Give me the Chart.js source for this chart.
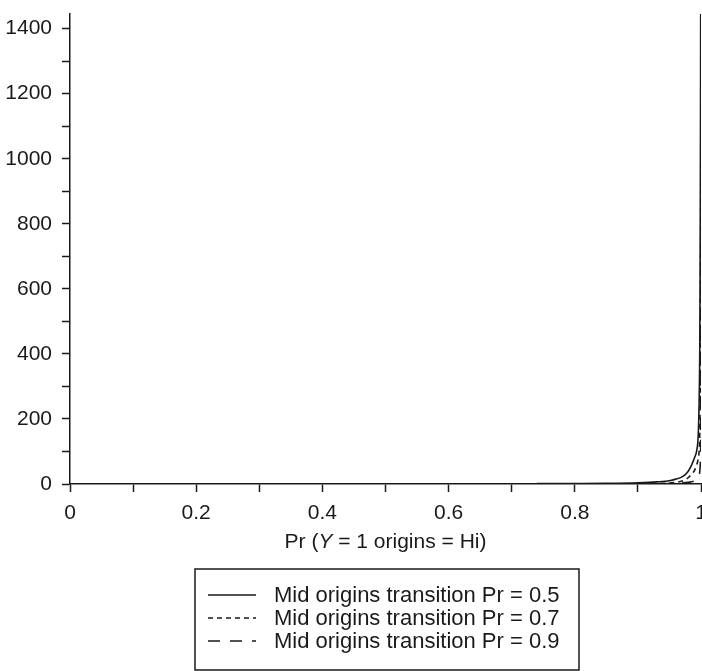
<!DOCTYPE html>
<html>
<head>
<meta charset="utf-8">
<script src="https://cdn.jsdelivr.net/npm/chart.js@4/dist/chart.umd.min.js"></script>
<style>
  html, body { margin: 0; padding: 0; background: #fff; }
  canvas { display: block; }
</style>
</head>
<body>
<canvas id="c" width="702" height="671"></canvas>
<script>
// ---- data ----
const seriesLabels = [
  'Mid origins transition Pr = 0.5',
  'Mid origins transition Pr = 0.7',
  'Mid origins transition Pr = 0.9'
];
const pr05 = [[0.74,1],[0.8,1.5],[0.85,2.2],[0.9,4],[0.93,6.5],[0.95,10],[0.96,15],[0.97,22],[0.975,29],[0.98,40],[0.985,58],[0.99,82],[0.993,100],[0.995,130],[0.996,170],[0.997,250],[0.998,400],[0.9985,600],[0.999,900],[0.9995,1450]];
const pr07 = [[0.85,0.5],[0.9,1],[0.93,1.8],[0.95,3],[0.96,5],[0.97,9],[0.975,13],[0.98,20],[0.985,30],[0.99,43],[0.993,58],[0.995,72],[0.997,100],[0.998,150],[0.9985,220],[0.999,330],[0.9993,600],[0.9996,1000],[0.9998,1450]];
const pr09 = [[0.9,0.3],[0.93,0.7],[0.95,1.2],[0.96,2],[0.97,3],[0.98,5],[0.985,7],[0.99,10],[0.993,14],[0.995,18],[0.997,26],[0.998,38],[0.999,70],[0.9995,130],[0.9997,250],[0.9998,400],[0.9999,800],[0.99995,1450]];
const xAxisTitleParts = ['Pr (', 'Y', ' = 1 origins = Hi)'];
const xMin = 0, xMax = 1, xStep = 0.1;
const yMin = 0, yMax = 1445, yStep = 100;

const INK = '#1a1a1a';
const FONT = "'Liberation Sans', Arial, Helvetica, sans-serif";
const dashes = [[], [5, 4], [12, 10]];

function toPts(arr) { return arr.map(p => ({x: p[0], y: p[1]})); }

const titleLegendPlugin = {
  id: 'titleLegend',
  afterDraw(chart) {
    const ctx = chart.ctx;
    const area = chart.chartArea;
    ctx.save();
    ctx.fillStyle = INK;
    const sz = 21;
    const fN = sz + 'px ' + FONT;
    const fI = 'italic ' + sz + 'px ' + FONT;
    ctx.font = fN; const w0 = ctx.measureText(xAxisTitleParts[0]).width;
    ctx.font = fI; const w1 = ctx.measureText(xAxisTitleParts[1]).width;
    ctx.font = fN; const w2 = ctx.measureText(xAxisTitleParts[2]).width;
    const cx = (area.left + area.right) / 2;
    let x = cx - (w0 + w1 + w2) / 2;
    const by = 548;
    ctx.textBaseline = 'alphabetic';
    ctx.textAlign = 'left';
    ctx.font = fN; ctx.fillText(xAxisTitleParts[0], x, by); x += w0;
    ctx.font = fI; ctx.fillText(xAxisTitleParts[1], x, by); x += w1;
    ctx.font = fN; ctx.fillText(xAxisTitleParts[2], x, by);

    const bx = 195, bw = 384, bt = 569, bh = 101;
    ctx.strokeStyle = INK;
    ctx.lineWidth = 1.5;
    ctx.strokeRect(bx, bt, bw, bh);
    ctx.font = '22px ' + FONT;
    chart.data.datasets.forEach((ds, i) => {
      const base = 602 + i * 23;
      ctx.beginPath();
      ctx.setLineDash(ds.borderDash || []);
      ctx.lineWidth = 1.5;
      ctx.moveTo(208, base - 7);
      ctx.lineTo(256, base - 7);
      ctx.stroke();
      ctx.setLineDash([]);
      ctx.fillText(ds.label, 274, base);
    });
    ctx.restore();
  }
};

new Chart(document.getElementById('c'), {
  type: 'scatter',
  data: {
    datasets: [pr05, pr07, pr09].map((d, i) => ({
      label: seriesLabels[i],
      data: toPts(d),
      showLine: true,
      borderColor: INK,
      backgroundColor: INK,
      borderWidth: 1.6,
      borderDash: dashes[i],
      pointRadius: 0,
      fill: false,
      cubicInterpolationMode: 'monotone'
    }))
  },
  options: {
    responsive: false,
    animation: false,
    devicePixelRatio: 1,
    layout: { padding: { top: 14, right: 1, left: 0, bottom: 147 } },
    plugins: { legend: { display: false }, tooltip: { enabled: false } },
    scales: {
      x: {
        type: 'linear', min: xMin, max: xMax,
        afterFit(s) { s.height = 40; s.paddingLeft = 0; s.paddingRight = 0; },
        border: { display: true, color: INK, width: 1.5 },
        grid: { display: true, drawOnChartArea: false, drawTicks: true, tickLength: 8, tickColor: INK, tickWidth: 1.5 },
        ticks: {
          stepSize: xStep, autoSkip: false, maxRotation: 0, padding: 9,
          color: INK, font: { size: 21, family: FONT },
          callback(v) {
            const k = Math.round(v * 10);
            if (k % 2 !== 0) return '';
            return String(Number((k / 10).toFixed(1)));
          }
        }
      },
      y: {
        type: 'linear', min: yMin, max: yMax,
        afterFit(s) { s.width = 70; s.paddingTop = 0; s.paddingBottom = 0; },
        border: { display: true, color: INK, width: 1.5 },
        grid: { display: true, drawOnChartArea: false, drawTicks: true, tickLength: 8, tickColor: INK, tickWidth: 1.5 },
        ticks: {
          stepSize: yStep, includeBounds: false, autoSkip: false, padding: 10,
          color: INK, font: { size: 21, family: FONT },
          callback(v) {
            const k = Math.round(v);
            return (k % 200 === 0) ? String(k) : '';
          }
        }
      }
    }
  },
  plugins: [titleLegendPlugin]
});
</script>
</body>
</html>
